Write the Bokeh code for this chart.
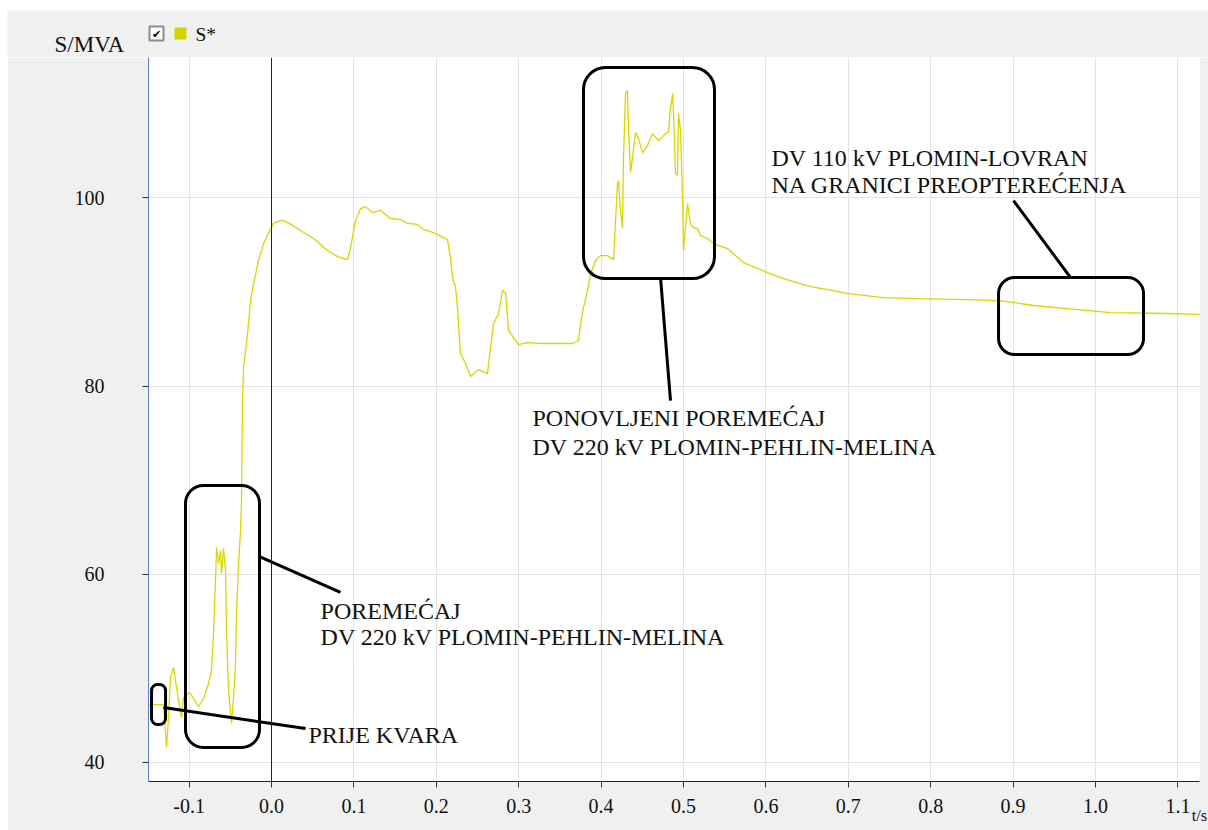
from bokeh.plotting import figure
from bokeh.layouts import column
from bokeh.models import (ColumnDataSource, Range1d, FixedTicker, PrintfTickFormatter,
                          Label, Span, BoxAnnotation, LinearAxis)
from bokeh.core.properties import value
from bokeh.embed import file_html
from bokeh.resources import INLINE

# ---- data: S* (MVA) versus time (s) ----
t_vals = [-0.1493, -0.1311, -0.1274, -0.1250, -0.1226, -0.1189, -0.1153, -0.1104, -0.1092,
          -0.1068, -0.0995, -0.0947, -0.0886, -0.0825, -0.0765, -0.0728, -0.0704, -0.0680,
          -0.0667, -0.0643, -0.0619, -0.0607, -0.0583, -0.0558, -0.0546, -0.0522, -0.0485,
          -0.0461, -0.0437, -0.0425, -0.0400, -0.0376, -0.0364, -0.0352, -0.0340, -0.0291,
          -0.0255, -0.0218, -0.0158, -0.0097, -0.0036, 0.0024, 0.0133, 0.0231, 0.0352,
          0.0510, 0.0680, 0.0801, 0.0922, 0.0959, 0.1019, 0.1080, 0.1141, 0.1226, 0.1323,
          0.1444, 0.1566, 0.1650, 0.1772, 0.1845, 0.1966, 0.2136, 0.2172, 0.2197, 0.2233,
          0.2257, 0.2294, 0.2354, 0.2415, 0.2512, 0.2621, 0.2658, 0.2694, 0.2755, 0.2803,
          0.2840, 0.2876, 0.2937, 0.2998, 0.3107, 0.3301, 0.3471, 0.3653, 0.3726, 0.3750,
          0.3786, 0.3835, 0.3871, 0.3932, 0.3993, 0.4078, 0.4150, 0.4175, 0.4199, 0.4211,
          0.4235, 0.4260, 0.4272, 0.4296, 0.4320, 0.4333, 0.4357, 0.4381, 0.4417, 0.4442,
          0.4502, 0.4563, 0.4624, 0.4697, 0.4757, 0.4818, 0.4842, 0.4867, 0.4879, 0.4903,
          0.4927, 0.4939, 0.4964, 0.4988, 0.5000, 0.5024, 0.5049, 0.5061, 0.5085, 0.5121,
          0.5170, 0.5206, 0.5291, 0.5364, 0.5534, 0.5728, 0.6019, 0.6214, 0.6541, 0.6820,
          0.7002, 0.7427, 0.7840, 0.8447, 0.8847, 0.9248, 0.9660, 1.0182, 1.0874, 1.1359]
s_vals = [46.16, 46.16, 41.59, 44.80, 49.03, 50.10, 47.97, 45.31, 44.78,
          46.91, 47.44, 46.80, 45.95, 46.80, 48.40, 49.78, 53.71, 59.34,
          62.85, 61.15, 62.53, 60.09, 62.74, 60.40, 54.03, 47.65, 44.14,
          46.91, 50.52, 55.83, 61.15, 64.65, 67.84, 78.47, 81.98, 85.59,
          89.10, 90.90, 93.35, 95.15, 96.32, 97.32, 97.64, 97.22, 96.54,
          95.69, 94.41, 93.77, 93.45, 94.73, 97.60, 98.87, 99.08, 98.46, 98.67,
          97.82, 97.72, 97.30, 97.19, 96.66, 96.32, 95.58, 93.66, 91.54, 90.48,
          88.35, 83.46, 82.40, 81.02, 81.76, 81.33, 84.10, 86.65, 87.72, 90.16,
          89.95, 85.91, 85.17, 84.42, 84.63, 84.53, 84.53, 84.53, 84.85, 86.65,
          88.35, 90.16, 91.90, 93.35, 93.88, 93.88, 93.45, 97.60, 101.53, 101.85,
          98.66, 96.85, 104.29, 111.09, 111.41, 107.16, 102.70, 104.29, 106.95, 106.63,
          104.82, 105.57, 106.84, 106.10, 106.63, 107.06, 109.61, 111.09, 108.97, 102.59,
          102.38, 108.97, 107.16, 99.72, 94.41, 96.85, 99.40, 98.66, 97.28, 96.85,
          96.75, 96.00, 95.69, 95.15, 94.62, 93.13, 92.07, 91.43, 90.58, 90.16,
          89.84, 89.41, 89.31, 89.20, 89.10, 88.57, 88.25, 87.82, 87.72, 87.61]

x_ticks = [-0.1, 0.0, 0.1, 0.2, 0.3, 0.4, 0.5, 0.6, 0.7, 0.8, 0.9, 1.0, 1.1]
y_ticks = [40, 60, 80, 100]
series_name = "S*"
y_title = "S/MVA"
x_title = "t/s"

# ---- annotations (boxes: left, right, bottom, top, radius) ----
box_left = [-0.1456, -0.1044, 0.3786, 0.8823]
box_right = [-0.1286, -0.0146, 0.5376, 1.0583]
box_bottom = [44.04, 41.59, 91.43, 83.36]
box_top = [48.29, 69.44, 113.86, 91.54]
box_radius = [6, 18, 22, 16]

call_x0 = [-0.1311, -0.0146, 0.4721, 0.9697]
call_y0 = [45.84, 61.89, 91.54, 91.54]
call_x1 = [0.0413, 0.0837, 0.4842, 0.9005]
call_y1 = [43.61, 58.07, 78.47, 99.72]

note_text = ["PRIJE KVARA", "POREMEĆAJ", "DV 220 kV PLOMIN-PEHLIN-MELINA",
             "PONOVLJENI POREMEĆAJ", "DV 220 kV PLOMIN-PEHLIN-MELINA",
             "DV 110 kV PLOMIN-LOVRAN", "NA GRANICI PREOPTEREĆENJA"]
note_x = [0.0449, 0.0595, 0.0595, 0.3167, 0.3167, 0.6068, 0.6068]
note_y = [42.87, 56.15, 53.39, 76.66, 73.58, 104.29, 101.42]

SERIF = "Liberation Serif"
LINE_COLOR = "#d8d800"
LEG_COLOR = "#d4d400"
GREY_BG = "#f0f0f0"

# ---------------- header strip (y title + legend row) ----------------
hdr = figure(width=1201, height=47, output_backend="svg", toolbar_location=None,
             x_range=Range1d(0, 1201), y_range=Range1d(0, 47),
             x_axis_type=None, y_axis_type=None,
             min_border_left=0, min_border_right=0, min_border_top=0, min_border_bottom=0)
hdr.margin = (10, 0, 0, 7)
hdr.grid.visible = False
hdr.background_fill_color = GREY_BG
hdr.border_fill_color = GREY_BG
hdr.outline_line_color = None

hdr.text(x=[47], y=[13.5], text=[y_title], text_font=value(SERIF), text_font_size="23px",
         text_color="#111111", text_baseline="middle", text_align="left")
hdr.rect(x=[149], y=[24], width=14, height=14, fill_color="white",
         line_color="#8c8c8c", line_width=2)
hdr.text(x=[149], y=[23.5], text=["✔"], text_font=value("DejaVu Sans"), text_font_size="11px",
         text_color="black", text_baseline="middle", text_align="center")
hdr.rect(x=[173], y=[24], width=12, height=12, fill_color=LEG_COLOR, line_color=None)
hdr.text(x=[188], y=[23], text=[series_name], text_font=value(SERIF), text_font_size="19.5px",
         text_color="#111111", text_baseline="middle", text_align="left")

# ---------------- main chart ----------------
X_END = 1.1262
p = figure(width=1201, height=773, output_backend="svg", toolbar_location=None,
           x_range=Range1d(-0.1493, X_END), y_range=Range1d(37.98, 114.93),
           min_border_left=141, min_border_right=9, min_border_top=0, min_border_bottom=49)
p.margin = (0, 0, 0, 7)
p.border_fill_color = GREY_BG
p.background_fill_color = "white"
p.outline_line_color = None

for fig in (hdr, p):
    if "frame_align" in fig.properties():
        fig.frame_align = False

src = ColumnDataSource(data=dict(t=t_vals, s=s_vals))
p.line("t", "s", source=src, line_color=LINE_COLOR, line_width=1.3)

p.xaxis.ticker = FixedTicker(ticks=x_ticks)
p.xaxis.formatter = PrintfTickFormatter(format="%.1f")
p.yaxis.ticker = FixedTicker(ticks=y_ticks)
for ax in (p.xaxis, p.yaxis):
    ax.minor_tick_line_color = None
    ax.major_tick_in = 0
    ax.major_tick_out = 6
    ax.major_label_text_font = SERIF
    ax.major_label_text_font_size = "20px"
    ax.major_label_text_color = "#111111"
    ax.major_tick_line_color = "#333333"
p.xaxis.axis_line_color = "#222222"
p.yaxis.axis_line_color = "#5b80e0"
p.yaxis.major_label_standoff = 38
p.xaxis.major_label_standoff = 11

xax = p.xaxis[0]
xax.axis_label = x_title
xax.axis_label_text_font = SERIF
xax.axis_label_text_font_size = "16.5px"
xax.axis_label_text_font_style = "normal"
xax.axis_label_text_color = "#111111"
if "axis_label_align" in xax.properties():
    xax.axis_label_align = "end"
xax.axis_label_standoff = -10

# plain white right-hand edge strip (continuation of the plotting area colour)
edge = LinearAxis(ticker=FixedTicker(ticks=[]), fixed_location=X_END + 5.5 / 824,
                  axis_line_color="white", axis_line_width=9,
                  major_tick_line_color=None, minor_tick_line_color=None,
                  major_label_text_font_size="0px")
p.add_layout(edge, "right")

p.xgrid.ticker = FixedTicker(ticks=x_ticks)
p.ygrid.ticker = FixedTicker(ticks=y_ticks)
p.xgrid.grid_line_color = "#e3e3e3"
p.ygrid.grid_line_color = "#e3e3e3"

p.add_layout(Span(location=0.0, dimension="height", line_color="#222222", line_width=1))

for l, r, b, tp, rad in zip(box_left, box_right, box_bottom, box_top, box_radius):
    p.add_layout(BoxAnnotation(left=l, right=r, bottom=b, top=tp, fill_alpha=0,
                               line_color="black", line_width=3, line_alpha=1,
                               border_radius=rad, level="overlay"))

p.segment(x0=call_x0, y0=call_y0, x1=call_x1, y1=call_y1,
          line_color="black", line_width=3)

for txt, x, y in zip(note_text, note_x, note_y):
    p.add_layout(Label(x=x, y=y, text=txt, text_font=SERIF, text_font_size="24px",
                       text_color="#111111", text_baseline="middle", text_align="left"))

layout = column(hdr, p, spacing=0)
open("out.html", "w").write(file_html(layout, INLINE))
